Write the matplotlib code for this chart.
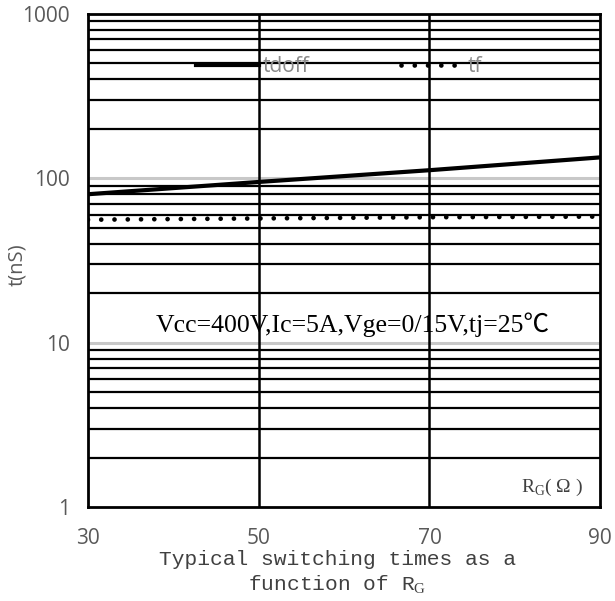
import matplotlib.pyplot as plt
import numpy as np

# gate resistance (ohm) and switching times (ns)
rg = [30, 50, 70, 90]
tdoff = [80, 95, 112, 134]
tf = [56, 57, 58, 58.5]

x_ticks = [30, 50, 70, 90]
y_ticks = [1, 10, 100, 1000]
y_ticklabels = ["1", "10", "100", "1000"]

plt.rcParams['mathtext.fontset'] = 'custom'
plt.rcParams['mathtext.rm'] = 'Liberation Serif'

fig = plt.figure(figsize=(6.15, 6.01), dpi=100)
ax = fig.add_axes([0.143, 0.156, 0.833, 0.821])

ax.set_yscale('log')
ax.set_xlim(30, 90)
ax.set_ylim(1, 1000)

# grid: black minor lines, grey decade lines
for dec in [1, 10, 100]:
    for m in range(2, 10):
        ax.axhline(dec * m, color='black', lw=1.6, zorder=1)
for dec in [10, 100]:
    ax.axhline(dec, color='#c8c8c8', lw=2.2, zorder=1)
for xv in [50, 70]:
    ax.axvline(xv, color='black', lw=1.8, zorder=1)

ax.plot(rg, tdoff, color='black', lw=3.0, label='tdoff', zorder=3)
ax.plot(rg, tf, color='black', lw=3.4, linestyle=(0, (0.01, 2.8)),
        dash_capstyle='round', label='tf', zorder=3)

for s in ax.spines.values():
    s.set_linewidth(2)
    s.set_color('black')

tick_font = dict(family='Open Sans', size=15, color='#595959')
ax.set_xticks(x_ticks)
ax.set_xticklabels([str(v) for v in x_ticks], **tick_font)
ax.set_yticks(y_ticks)
ax.set_yticklabels(y_ticklabels, **tick_font)
ax.yaxis.set_minor_locator(plt.NullLocator())
ax.tick_params(axis='both', length=0)
ax.tick_params(axis='y', pad=13)
ax.tick_params(axis='x', pad=15)

# y axis title sits close to the left edge
fig.text(0.028, 0.56, 't(nS)', rotation=90, ha='center', va='center',
         family='Open Sans', size=14.5, color='#595959')

leg = ax.legend(loc='center left', bbox_to_anchor=(0.175, 0.893), ncol=2,
                frameon=False, handlelength=3.0, handletextpad=0.2,
                columnspacing=4.4, prop={'family': 'Open Sans', 'size': 15})
for t in leg.get_texts():
    t.set_color('#8a8a8a')

ax.text(0.517, 0.37, 'Vcc=400V,Ic=5A,Vge=0/15V,tj=25℃', transform=ax.transAxes,
        ha='center', va='center', fontsize=18.5,
        family=['Liberation Serif', 'Noto Sans CJK SC'], color='black', zorder=4)

ax.text(0.967, 0.04, 'R$_\\mathrm{G}$( Ω )', transform=ax.transAxes,
        ha='right', va='center', fontsize=14, family='Liberation Serif',
        color='#404040', zorder=4)

fig.text(0.548, 0.047, 'Typical switching times as a\nfunction of R$_\\mathrm{G}$',
         ha='center', va='center', fontsize=15.3, family='Liberation Mono',
         color='#404040', linespacing=1.25)

fig.savefig('out.png', dpi=100)
